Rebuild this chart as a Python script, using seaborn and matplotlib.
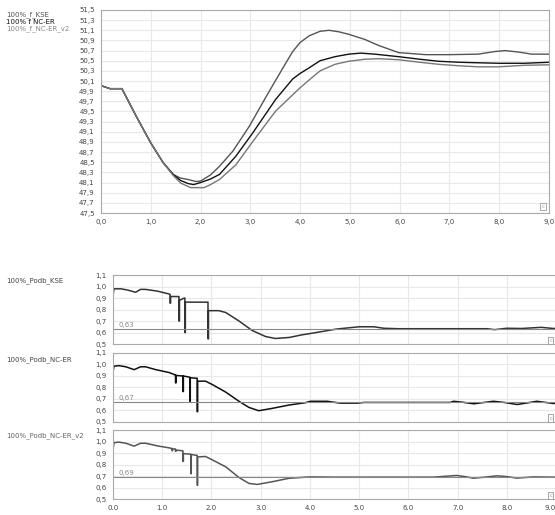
import matplotlib
matplotlib.use("Agg")
import matplotlib.pyplot as plt
import seaborn as sns
import numpy as np

# --- frequency (top chart) ---
f_kse_t = [0.0, 0.18, 0.42, 0.7, 1.0, 1.25, 1.45, 1.59, 1.75, 1.91, 2.0, 2.2, 2.38, 2.65, 2.98,
           3.31, 3.5, 3.71, 3.85, 4.0, 4.18, 4.4, 4.58, 4.78, 4.98, 5.3, 5.58, 5.98, 6.52, 7.0,
           7.58, 7.9, 8.12, 8.4, 8.65, 9.0]
f_kse_v = [50.01, 49.95, 49.95, 49.42, 48.88, 48.49, 48.26, 48.19, 48.16, 48.12, 48.13, 48.25,
           48.42, 48.72, 49.21, 49.78, 50.1, 50.45, 50.68, 50.86, 50.99, 51.08, 51.1, 51.07,
           51.02, 50.92, 50.8, 50.66, 50.62, 50.62, 50.63, 50.68, 50.7, 50.67, 50.63, 50.63]

f_ncer_t = [0.0, 0.18, 0.42, 0.7, 1.0, 1.25, 1.45, 1.6, 1.75, 1.86, 2.0, 2.2, 2.38, 2.71, 3.05,
            3.51, 3.85, 4.0, 4.18, 4.4, 4.7, 4.98, 5.22, 5.5, 5.98, 6.4, 6.78, 7.2, 7.58, 8.0,
            8.5, 9.0]
f_ncer_v = [50.01, 49.95, 49.95, 49.42, 48.88, 48.49, 48.26, 48.14, 48.08, 48.06, 48.1, 48.17,
            48.26, 48.62, 49.08, 49.74, 50.14, 50.25, 50.36, 50.5, 50.58, 50.63, 50.65, 50.63,
            50.58, 50.53, 50.49, 50.47, 50.46, 50.45, 50.45, 50.47]

f_v2_t = [0.0, 0.18, 0.42, 0.7, 1.0, 1.25, 1.45, 1.6, 1.8, 2.07, 2.2, 2.38, 2.71, 3.05, 3.51,
          3.98, 4.18, 4.4, 4.7, 4.98, 5.3, 5.58, 5.98, 6.4, 6.78, 7.2, 7.58, 7.98, 8.5, 9.0]
f_v2_v = [50.01, 49.95, 49.95, 49.42, 48.88, 48.49, 48.24, 48.09, 48.0, 48.0, 48.06, 48.16,
          48.45, 48.91, 49.51, 49.95, 50.12, 50.3, 50.43, 50.49, 50.53, 50.54, 50.52, 50.47,
          50.43, 50.4, 50.38, 50.38, 50.41, 50.42]

# --- Podb panels ---
p_kse_t = [0.0, 0.02, 0.16, 0.29, 0.46, 0.56, 0.66, 0.9, 1.14, 1.15,
           1.16, 1.16, 1.17, 1.17, 1.33,
           1.34, 1.34, 1.35, 1.35, 1.45,
           1.46, 1.46, 1.47, 1.47, 1.92,
           1.93, 1.93, 1.94, 1.94, 2.15,
           2.29, 2.56, 2.83, 3.1, 3.3,
           3.58, 3.84, 3.99, 4.54, 5.0,
           5.3, 5.5, 5.8, 7.6, 7.75,
           8.0, 8.3, 8.7, 8.95, 9.0]
p_kse_v = [0.92, 0.98, 0.98, 0.97, 0.95, 0.975, 0.975, 0.96, 0.935, 0.933,
           0.93, 0.855, 0.855, 0.913, 0.913,
           0.913, 0.70, 0.70, 0.88, 0.9,
           0.9, 0.6, 0.6, 0.864, 0.864,
           0.864, 0.545, 0.545, 0.79, 0.79,
           0.774, 0.70, 0.617, 0.565, 0.548,
           0.557, 0.58, 0.59, 0.63, 0.65,
           0.65, 0.637, 0.633, 0.633, 0.625,
           0.637, 0.635, 0.645, 0.635, 0.635]

p_ncer_t = [0.0, 0.02, 0.12, 0.26, 0.43, 0.56, 0.66, 0.87, 1.14, 1.26,
            1.27, 1.27, 1.28, 1.28, 1.41,
            1.42, 1.42, 1.43, 1.43, 1.55,
            1.56, 1.56, 1.57, 1.57, 1.70,
            1.71, 1.71, 1.72, 1.72, 1.88,
            2.02, 2.29, 2.56, 2.76, 2.96,
            3.23, 3.57, 3.91, 4.01, 4.35,
            4.62, 4.96, 5.1, 6.85, 6.92,
            7.1, 7.33, 7.5, 7.73, 7.95,
            8.21, 8.4, 8.61, 8.95, 9.0]
p_ncer_v = [0.935, 0.985, 0.99, 0.98, 0.955, 0.98, 0.98, 0.955, 0.93, 0.91,
            0.91, 0.84, 0.84, 0.905, 0.9,
            0.9, 0.765, 0.765, 0.9, 0.89,
            0.89, 0.68, 0.68, 0.885, 0.88,
            0.88, 0.59, 0.59, 0.855, 0.855,
            0.825, 0.76, 0.68, 0.627, 0.598,
            0.618, 0.647, 0.668, 0.68, 0.68,
            0.664, 0.664, 0.67, 0.67, 0.68,
            0.672, 0.658, 0.668, 0.68, 0.67,
            0.652, 0.665, 0.68, 0.661, 0.662]

p_v2_t = [0.0, 0.02, 0.12, 0.26, 0.43, 0.56, 0.66, 0.93, 1.14, 1.19,
          1.2, 1.2, 1.21, 1.21, 1.26,
          1.27, 1.27, 1.28, 1.28, 1.41,
          1.42, 1.42, 1.43, 1.43, 1.57,
          1.58, 1.58, 1.59, 1.59, 1.70,
          1.71, 1.71, 1.72, 1.72, 1.88,
          2.02, 2.29, 2.56, 2.76, 2.93,
          3.23, 3.57, 3.91, 4.01, 4.5,
          6.5, 6.98, 7.15, 7.32, 7.55,
          7.8, 8.0, 8.2, 8.54, 8.95, 9.0]
p_v2_v = [0.93, 0.99, 0.995, 0.985, 0.96, 0.985, 0.985, 0.96, 0.945, 0.94,
          0.94, 0.92, 0.92, 0.935, 0.935,
          0.935, 0.915, 0.915, 0.925, 0.92,
          0.92, 0.827, 0.827, 0.895, 0.89,
          0.89, 0.72, 0.72, 0.887, 0.88,
          0.88, 0.62, 0.62, 0.866, 0.87,
          0.84, 0.78, 0.687, 0.636, 0.627,
          0.65, 0.68, 0.69, 0.692, 0.69,
          0.69, 0.705, 0.695, 0.681, 0.69,
          0.702, 0.695, 0.682, 0.692, 0.69, 0.69]

f_labels = ["100%_f_KSE", "100% f NC-ER", "100%_f_NC-ER_v2"]
p_labels = ["100%_Podb_KSE", "100%_Podb_NC-ER", "100%_Podb_NC-ER_v2"]
p_refs = [0.63, 0.67, 0.69]

sns.set_style("whitegrid", {"grid.color": "#e8e8e8", "axes.edgecolor": "#aaaaaa"})
plt.rcParams["font.family"] = ["DejaVu Sans"]

def comma(v, nd=1):
    return f"{v:.{nd}f}".replace(".", ",")

def style_axis(ax):
    for s in ax.spines.values():
        s.set_color("#aaaaaa")
        s.set_linewidth(0.8)
    ax.tick_params(direction="out", length=3, width=0.6, color="#666666",
                   labelsize=5, labelcolor="#444444", pad=1.5)
    ax.grid(True, color="#e8e8e8", lw=0.8)

def corner_box(ax, x):
    ax.text(x, 0.02, "c", transform=ax.transAxes, fontsize=4, color="#999999",
            ha="left", va="bottom",
            bbox=dict(boxstyle="square,pad=0.2", fc="white", ec="#999999", lw=0.6))

fig = plt.figure(figsize=(5.55, 5.15), dpi=100)

# top frequency chart
ax = fig.add_axes([0.182, 0.5864, 0.8072, 0.3942])
f_colors = ["#555555", "#111111", "#777777"]
for (tt, vv), c in zip([(f_kse_t, f_kse_v), (f_ncer_t, f_ncer_v), (f_v2_t, f_v2_v)], f_colors):
    sns.lineplot(x=tt, y=vv, ax=ax, color=c, lw=1.0, estimator=None, sort=False, legend=False)
ax.set_xlim(0, 9)
ax.set_ylim(47.5, 51.5)
yt = np.round(np.arange(47.5, 51.51, 0.2), 1)
ax.set_yticks(yt)
ax.set_yticklabels([comma(v) for v in yt])
ax.set_xticks(range(10))
ax.set_xticklabels([comma(v) for v in range(10)])
style_axis(ax)
corner_box(ax, 0.983)
label_colors = ["#555555", "#111111", "#888888"]
for i, (lab, c) in enumerate(zip(f_labels, label_colors)):
    fig.text(6 / 555, 1 - (15 + 7 * i) / 515, lab, fontsize=5, color=c, va="center")

# Podb panels
p_data = [(p_kse_t, p_kse_v), (p_ncer_t, p_ncer_v), (p_v2_t, p_v2_v)]
p_colors = ["#333333", "#111111", "#555555"]
bottoms = [0.332, 0.1806, 0.031]
label_y = [281, 360, 436]
for i in range(3):
    axp = fig.add_axes([113 / 555, bottoms[i], 443 / 555, 0.134])
    tt, vv = p_data[i]
    sns.lineplot(x=tt, y=vv, ax=axp, color=p_colors[i], lw=1.1, estimator=None,
                 sort=False, legend=False)
    axp.axhline(p_refs[i], color="#888888", lw=0.8)
    axp.text(0.12, p_refs[i] + 0.012, comma(p_refs[i], 2), fontsize=5, color="#888888",
             va="bottom")
    axp.set_xlim(0, 9)
    axp.set_ylim(0.5, 1.1)
    pt = np.round(np.arange(0.5, 1.101, 0.1), 1)
    axp.set_yticks(pt)
    axp.set_yticklabels([comma(v) for v in pt])
    axp.set_xticks(range(10))
    style_axis(axp)
    if i < 2:
        axp.tick_params(axis="x", labelbottom=False, length=0)
    else:
        axp.set_xticklabels([f"{v:.1f}" for v in range(10)])
        axp.get_xticklabels()[-1].set_ha("right")
    corner_box(axp, 0.985)
    fig.text(6 / 555, 1 - label_y[i] / 515, p_labels[i], fontsize=5,
             color="#444444" if i < 2 else "#666666", va="center")

fig.savefig("out.png", dpi=100)
